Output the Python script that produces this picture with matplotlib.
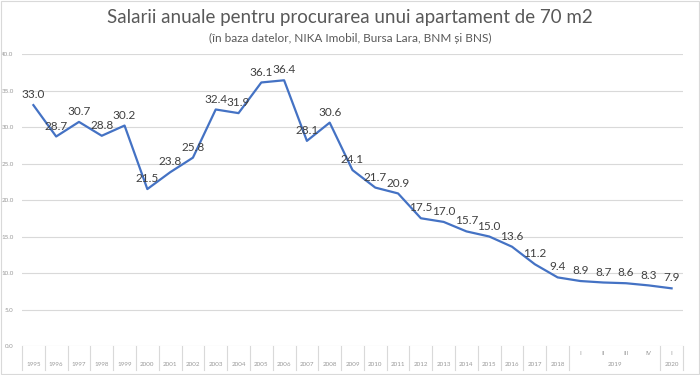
import matplotlib.pyplot as plt
from matplotlib.patches import Rectangle

# Data
years = [str(y) for y in range(1995, 2019)]
quarters = ["I", "II", "III", "IV", "I"]
quarter_years = ["2019", "2020"]
salaries = [33.0, 28.7, 30.7, 28.8, 30.2, 21.5, 23.8, 25.8, 32.4, 31.9,
            36.1, 36.4, 28.1, 30.6, 24.1, 21.7, 20.9, 17.5, 17.0, 15.7,
            15.0, 13.6, 11.2, 9.4, 8.9, 8.7, 8.6, 8.3, 7.9]
y_ticks = [0, 5, 10, 15, 20, 25, 30, 35, 40]

plt.rcParams['font.family'] = ['Lato', 'DejaVu Sans']

fig = plt.figure(figsize=(7.0, 3.75), dpi=100)
fig.add_artist(Rectangle((0.001, 0.002), 0.997, 0.995, transform=fig.transFigure,
                         fill=False, edgecolor='#d9d9d9', linewidth=0.8))

ax = fig.add_axes([0.0314, 0.0773, 0.9443, 0.7787])
x = list(range(len(salaries)))
ax.plot(x, salaries, color='#4472C4', linewidth=1.6, solid_joinstyle='round')

for xi, v in zip(x, salaries):
    ax.annotate(f"{v:.1f}", (xi, v), xytext=(0, 7.5), textcoords='offset points',
                ha='center', va='center', fontsize=8.5, color='#404040')

ax.set_xlim(-0.5, len(salaries) - 0.5)
ax.set_ylim(0, 40)
ax.set_yticks(y_ticks)
ax.set_yticklabels([f"{t:.1f}" for t in y_ticks], fontsize=4.5, color='#999999')
ax.tick_params(axis='y', length=0, pad=6)
ax.set_xticks([])
ax.grid(axis='y', color='#d9d9d9', linewidth=0.8)
ax.set_axisbelow(True)
for s in ax.spines.values():
    s.set_visible(False)

# multi level category axis
tr = ax.get_xaxis_transform()
sep_bottom = -0.082
seps = [i - 0.5 for i in range(len(years) + 1)] + [len(years) + 3.5, len(salaries) - 0.5]
for sx in seps:
    ax.plot([sx, sx], [0, sep_bottom], transform=tr, color='#d9d9d9',
            linewidth=0.8, clip_on=False)
for i, yl in enumerate(years):
    ax.text(i, -0.065, yl, transform=tr, ha='center', va='center',
            fontsize=4.5, color='#999999')
for j, q in enumerate(quarters):
    ax.text(len(years) + j, -0.027, q, transform=tr, ha='center', va='center',
            fontsize=4.5, color='#999999')
ax.text(len(years) + 1.5, -0.065, quarter_years[0], transform=tr, ha='center',
        va='center', fontsize=4.5, color='#999999')
ax.text(len(salaries) - 1, -0.065, quarter_years[1], transform=tr, ha='center',
        va='center', fontsize=4.5, color='#999999')

fig.text(0.5, 0.953, "Salarii anuale pentru procurarea unui apartament de 70 m2",
         ha='center', va='center', fontsize=13.5, color='#595959')
fig.text(0.5, 0.898, "(în baza datelor, NIKA Imobil, Bursa Lara, BNM și BNS)",
         ha='center', va='center', fontsize=8.5, color='#595959')

fig.savefig('out.png', dpi=100)
